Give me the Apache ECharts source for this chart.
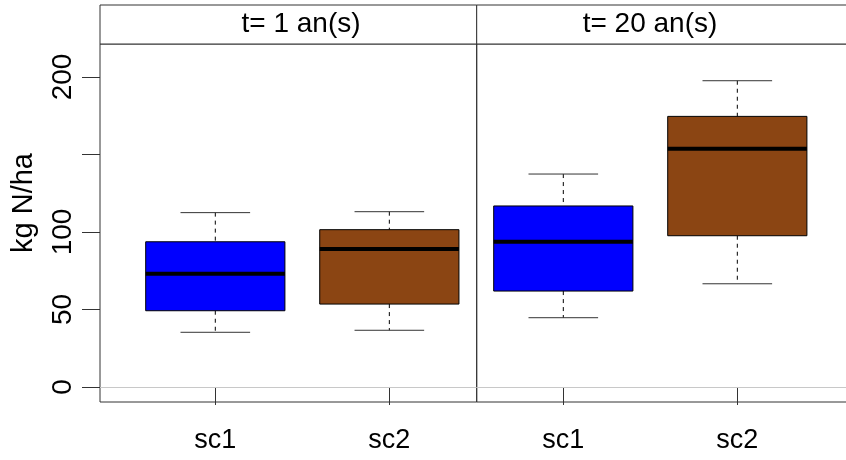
<!DOCTYPE html>
<html>
<head>
<meta charset="utf-8">
<script src="https://cdn.jsdelivr.net/npm/echarts@6/dist/echarts.min.js"></script>
<style>
  html, body { margin: 0; padding: 0; background: #fff; }
  #chart { width: 846px; height: 460px; }
</style>
</head>
<body>
<div id="chart"></div>
<script>
  // data: [min, Q1, median, Q3, max]
  var categories = ['sc1', 'sc2']
  var panelTitles = ['t= 1 an(s)', 't= 20 an(s)']
  var yearOne = [
    [35.3, 49.2, 73.1, 93.7, 112.5],
    [36.6, 53.5, 89.0, 101.5, 113.1]
  ]
  var yearTwenty = [
    [44.7, 61.9, 93.7, 116.8, 137.4],
    [66.6, 97.6, 153.7, 174.6, 197.6]
  ]
  var yTicks = [0, 50, 100, 150, 200]
  var yLabels = [0, 50, 100, 200]
  var boxColors = ['#0000FF', '#8B4513']

  var FONT = 'Liberation Sans, Arial, sans-serif'
  var LINE = '#333'

  function toItems(stats) {
    // x position 1, 2 for the categories
    return stats.map(function (s, i) {
      return [i + 1].concat(s)
    })
  }

  function renderBox(params, api) {
    var x = api.value(0)
    var pMin = api.coord([x, api.value(1)])
    var pQ1 = api.coord([x, api.value(2)])
    var pMed = api.coord([x, api.value(3)])
    var pQ3 = api.coord([x, api.value(4)])
    var pMax = api.coord([x, api.value(5)])
    var half = api.size([0.8, 0])[0] / 2
    var cx = pMed[0]
    var color = boxColors[x - 1]
    return {
      type: 'group',
      children: [
        {
          type: 'line',
          shape: {x1: cx, y1: pMax[1], x2: cx, y2: pQ3[1]},
          style: {stroke: '#000', lineWidth: 1, lineDash: [4, 4]}
        },
        {
          type: 'line',
          shape: {x1: cx, y1: pQ1[1], x2: cx, y2: pMin[1]},
          style: {stroke: '#000', lineWidth: 1, lineDash: [4, 4]}
        },
        {
          type: 'line',
          shape: {x1: cx - half / 2, y1: pMax[1], x2: cx + half / 2, y2: pMax[1]},
          style: {stroke: LINE, lineWidth: 1}
        },
        {
          type: 'line',
          shape: {x1: cx - half / 2, y1: pMin[1], x2: cx + half / 2, y2: pMin[1]},
          style: {stroke: LINE, lineWidth: 1}
        },
        {
          type: 'rect',
          shape: {x: cx - half, y: pQ3[1], width: half * 2, height: pQ1[1] - pQ3[1]},
          style: {fill: color, stroke: '#000', lineWidth: 1}
        },
        {
          type: 'line',
          shape: {x1: cx - half, y1: pMed[1], x2: cx + half, y2: pMed[1]},
          style: {stroke: '#000', lineWidth: 4}
        }
      ]
    }
  }

  function xAxisFor(idx, min, max) {
    return {
      type: 'value',
      gridIndex: idx,
      min: min,
      max: max,
      axisLine: {show: false},
      splitLine: {show: false},
      axisTick: {show: true, inside: false, length: 18, customValues: [1, 2], lineStyle: {color: LINE}},
      axisLabel: {
        customValues: [1, 2],
        margin: 25,
        fontSize: 27,
        fontFamily: FONT,
        color: '#000',
        formatter: function (v) { return categories[v - 1] }
      }
    }
  }

  function yAxisFor(idx, visible) {
    return {
      type: 'value',
      gridIndex: idx,
      min: -9.68,
      max: 221.3,
      axisLine: {show: false},
      splitLine: {show: false},
      axisTick: {show: visible, inside: false, length: 18, customValues: yTicks, lineStyle: {color: LINE}},
      axisLabel: {
        show: visible,
        customValues: yLabels,
        rotate: 90,
        margin: 23,
        fontSize: 28,
        fontFamily: FONT,
        color: '#000'
      }
    }
  }

  function seriesFor(idx, stats) {
    return {
      type: 'custom',
      xAxisIndex: idx,
      yAxisIndex: idx,
      renderItem: renderBox,
      data: toItems(stats),
      markLine: {
        silent: true,
        symbol: 'none',
        label: {show: false},
        lineStyle: {color: '#c8c8c8', width: 1, type: 'solid'},
        data: [{yAxis: 0}]
      }
    }
  }

  var chart = echarts.init(document.getElementById('chart'))
  chart.setOption({
    animation: false,
    backgroundColor: '#fff',
    grid: [
      {left: 100, top: 44, width: 376.7, height: 358, outerBoundsMode: 'none', containLabel: false,
        show: true, borderColor: LINE, borderWidth: 1, backgroundColor: 'transparent'},
      {left: 476.7, top: 44, width: 400, height: 358, outerBoundsMode: 'none', containLabel: false,
        show: true, borderColor: LINE, borderWidth: 1, backgroundColor: 'transparent'}
    ],
    xAxis: [xAxisFor(0, 0.3374, 2.502), xAxisFor(1, 0.5023, 2.801)],
    yAxis: [yAxisFor(0, true), yAxisFor(1, false)],
    series: [seriesFor(0, yearOne), seriesFor(1, yearTwenty)],
    graphic: [
      // strips
      {type: 'rect', shape: {x: 100, y: 5, width: 376.7, height: 39}, style: {fill: '#fff', stroke: LINE, lineWidth: 1}},
      {type: 'rect', shape: {x: 476.7, y: 5, width: 400, height: 39}, style: {fill: '#fff', stroke: LINE, lineWidth: 1}},
      {type: 'text', x: 301, y: 24, style: {text: panelTitles[0], font: '28px ' + FONT, fill: '#000', textAlign: 'center', textVerticalAlign: 'middle'}},
      {type: 'text', x: 650, y: 24, style: {text: panelTitles[1], font: '28px ' + FONT, fill: '#000', textAlign: 'center', textVerticalAlign: 'middle'}},
      // y axis title
      {type: 'text', x: 24, y: 203, rotation: Math.PI / 2, style: {text: 'kg N/ha', font: '29px ' + FONT, fill: '#000', textAlign: 'center', textVerticalAlign: 'middle'}}
    ]
  })
</script>
</body>
</html>
